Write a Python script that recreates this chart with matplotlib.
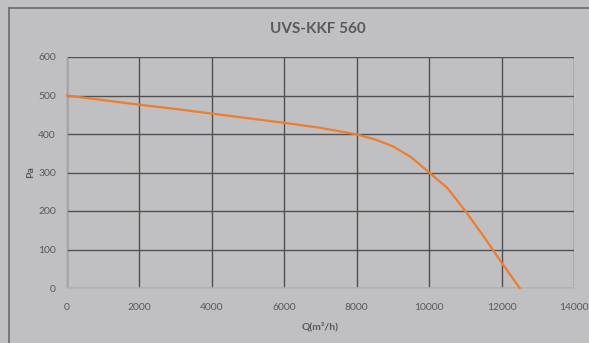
import matplotlib
matplotlib.use("Agg")
import matplotlib.pyplot as plt
from matplotlib.lines import Line2D

title = "UVS-KKF 560"
x_label = "Q(m³/h)"
y_label = "Pa"
flow = [0, 1000, 2000, 3000, 4000, 5000, 6000, 7000, 8000, 8500, 9000, 9500,
        10000, 10500, 11000, 11500, 12000, 12500]
pressure = [500, 488, 476, 465, 453, 441, 429, 416, 399, 386, 368, 340,
            300, 260, 200, 135, 66, 0]
x_ticks = [0, 2000, 4000, 6000, 8000, 10000, 12000, 14000]
y_ticks = [0, 100, 200, 300, 400, 500, 600]

W, H = 589, 343
bg = "#c0c0c2"
txt = "#595959"
plt.rcParams['font.family'] = ['Lato', 'DejaVu Sans']

fig = plt.figure(figsize=(W / 100, H / 100), dpi=100, facecolor=bg)
# outer chart frame (top and left edges visible)
fig.add_artist(Line2D([9 / W, 1.0], [1 - 8 / H, 1 - 8 / H], color="#6a6a6a", lw=1.2,
                      transform=fig.transFigure))
fig.add_artist(Line2D([9 / W, 9 / W], [0.0, 1 - 8 / H], color="#6a6a6a", lw=1.2,
                      transform=fig.transFigure))

ax = fig.add_axes([67 / W, 1 - 288 / H, (574 - 67) / W, (288 - 57) / H])
ax.set_facecolor(bg)
ax.set_xlim(0, 14000)
ax.set_ylim(0, 600)
ax.set_xticks(x_ticks)
ax.set_yticks(y_ticks)
ax.set_xticklabels([str(v) for v in x_ticks])
ax.set_yticklabels([str(v) for v in y_ticks])
ax.grid(True, color="#505050", lw=1.0)
ax.set_axisbelow(True)
for s in ["top", "right"]:
    ax.spines[s].set_visible(False)
for s in ["left", "bottom"]:
    ax.spines[s].set_color("#b0b6b8")
    ax.spines[s].set_linewidth(1.2)
    ax.spines[s].set_zorder(2.5)
ax.tick_params(length=0, labelsize=7.5, labelcolor=txt)
ax.tick_params(axis="y", pad=8)
ax.tick_params(axis="x", pad=11)

ax.plot(flow, pressure, color="#ED7D31", lw=1.6, zorder=3, clip_on=False)

ax.set_xlabel(x_label, fontsize=7.5, fontweight="bold", color=txt, labelpad=7)
ax.set_ylabel(y_label, fontsize=7.5, fontweight="bold", color=txt, labelpad=2)
fig.text(318 / W, 1 - 29 / H, title, ha="center", va="center", fontsize=11,
         fontweight="bold", color=txt)

fig.savefig("out.png", dpi=100, facecolor=bg)
